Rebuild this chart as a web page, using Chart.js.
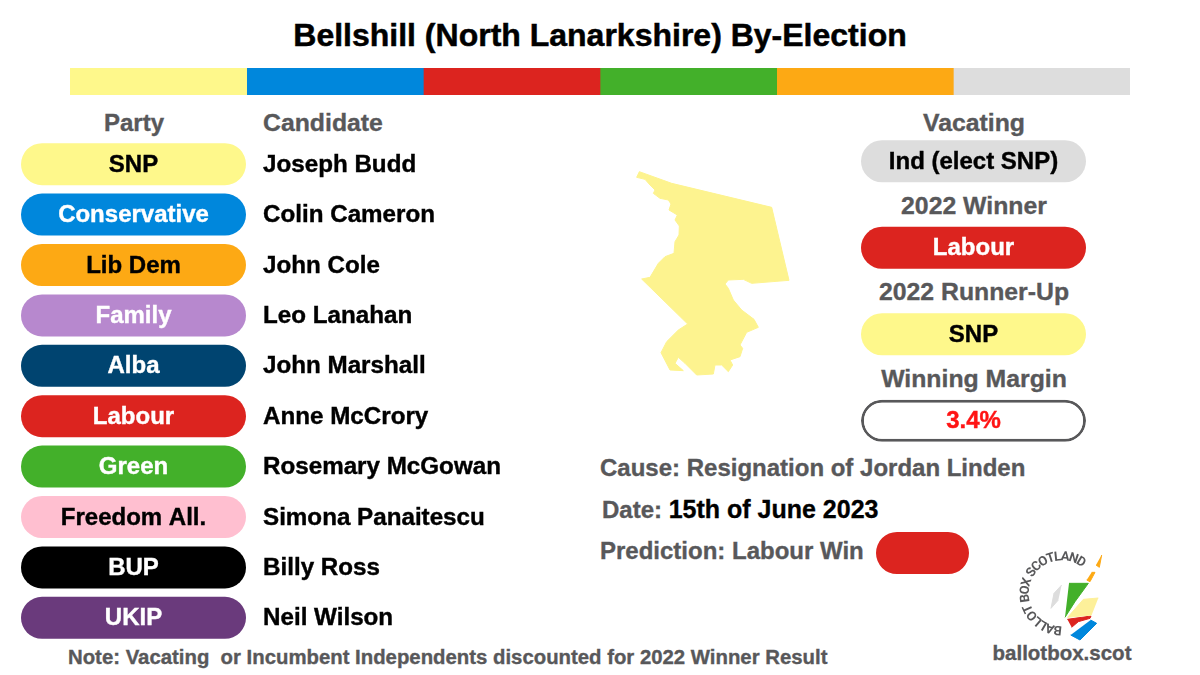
<!DOCTYPE html>
<html><head><meta charset="utf-8">
<style>
html,body{margin:0;padding:0;background:#fff;width:1200px;height:675px;overflow:hidden}
canvas{position:absolute;display:block}
.t{position:absolute;font-family:"Liberation Sans",sans-serif;font-weight:700;white-space:pre;color:#58585a;transform:translateY(-50%);line-height:1;-webkit-text-stroke:0.35px currentColor}
.c{transform:translate(-50%,-50%)}
.k{color:#000}
</style>
<script src="https://cdn.jsdelivr.net/npm/chart.js@4/dist/chart.umd.min.js"></script>
</head><body>
<div class="t c k" style="left:600px;top:35px;font-size:32px;-webkit-text-stroke:0.5px #000">Bellshill (North Lanarkshire) By-Election</div>
<div class="t c" style="left:134px;top:123px;font-size:24px">Party</div>
<div class="t" style="left:263px;top:123px;font-size:24.8px">Candidate</div>
<div class="t c" style="left:974px;top:123px;font-size:24.8px">Vacating</div>
<div class="t c" style="left:974px;top:206px;font-size:24.8px">2022 Winner</div>
<div class="t c" style="left:974px;top:292px;font-size:24.8px">2022 Runner-Up</div>
<div class="t c" style="left:974px;top:379px;font-size:24.8px">Winning Margin</div>
<div class="t" style="left:600px;top:468px;font-size:24px">Cause: Resignation of Jordan Linden</div>
<div class="t" style="left:602px;top:509px;font-size:24px">Date: <span class="k" style="font-size:25px">15th of June 2023</span></div>
<div class="t" style="left:600px;top:551px;font-size:24px">Prediction: Labour Win</div>
<div class="t" style="left:68px;top:657px;font-size:20.35px">Note: Vacating  or Incumbent Independents discounted for 2022 Winner Result</div>
<div class="t c" style="left:1062px;top:653px;font-size:20.5px">ballotbox.scot</div>

<canvas id="strip" width="1060" height="27" style="left:70px;top:68px"></canvas>
<canvas id="parties" width="520" height="504" style="left:11px;top:139px"></canvas>
<canvas id="held" width="245" height="346" style="left:851px;top:118px"></canvas>
<canvas id="prediction" width="113" height="62" style="left:866px;top:522px"></canvas>
<canvas id="map" width="300" height="300" style="left:600px;top:100px"></canvas>
<canvas id="logo" width="170" height="120" style="left:980px;top:530px"></canvas>

<script>
// ---- data ----
const stripColours = ['#FEF88B','#0087DC','#DC241F','#43B02A','#FDA914','#DDDDDD'];
const stripShares = [1,1,1,1,1,1];

const parties = ['SNP','Conservative','Lib Dem','Family','Alba','Labour','Green','Freedom All.','BUP','UKIP'];
const candidates = ['Joseph Budd','Colin Cameron','John Cole','Leo Lanahan','John Marshall','Anne McCrory','Rosemary McGowan','Simona Panaitescu','Billy Ross','Neil Wilson'];
const partySlots = [1,1,1,1,1,1,1,1,1,1];
const partyColours = ['#FEF88B','#0087DC','#FDA914','#B788CE','#004470','#DC241F','#43B02A','#FFBFD0','#000000','#6A3A7C'];
const partyText = ['#000','#fff','#000','#fff','#fff','#fff','#fff','#000','#fff','#fff'];

const heldLabels = ['Ind (elect SNP)','Labour','SNP','3.4%'];
const heldSlots = [1,1,1,1];
const heldColours = ['#DDDDDD','#DC241F','#FEF88B','#FFFFFF'];
const heldBorders = ['#DDDDDD','#DC241F','#FEF88B','#58585A'];
const heldBorderWidths = [0,0,0,3];
const heldText = ['#000','#fff','#000','#FF1414'];

const predictionLabel = ['Labour'];
const predictionSlot = [1];
const predictionColour = ['#DC241F'];

const mapX = [118,215,515,567,455,430,385,375,385,400,425,462,475,440,420,428,420,390,398,385,365,345,340,290,255,235,225,250,210,183,200,235,263,125,150,175,195,222,225,237,238,225,232,207,213,205,180,160,165,150,135,110];
const mapY = [215,250,322,541,550,538,540,552,565,600,630,658,682,697,735,745,770,780,795,815,795,795,822,825,790,772,790,812,810,758,725,690,672,537,532,490,470,460,425,405,378,360,345,330,312,300,295,280,270,255,238,232];

const logoOrangeAX = [365,358,348]; const logoOrangeAY = [75,112,105];
const logoOrangeBX = [335,345,330,320]; const logoOrangeBY = [127,127,155,150];
const logoGreyX = [245,222,213,235]; const logoGreyY = [165,190,235,210];
const logoGreenX = [267,325,285,255]; const logoGreenY = [160,160,215,262];
const logoPaleX = [355,310,263,335]; const logoPaleY = [204,208,262,255];
const logoRedX = [262,333,330,295,275]; const logoRedY = [268,258,265,275,292];
const logoBlueX = [332,350,300,272]; const logoBlueY = [270,280,330,315];
const logoArcText = 'BALLOT BOX SCOTLAND';

// ---- helpers ----
const FONT = '"Liberation Sans", sans-serif';
Chart.defaults.font.family = FONT;
Chart.defaults.animation = false;
Chart.defaults.responsive = false;
Chart.defaults.devicePixelRatio = 1;
Chart.defaults.plugins.legend.display = false;
Chart.defaults.plugins.tooltip.enabled = false;

const pillText = (labels, colours, font) => ({
  id:'pillText',
  afterDatasetsDraw(chart){
    const ctx = chart.ctx;
    ctx.save();
    ctx.textAlign='center'; ctx.textBaseline='middle';
    ctx.font = font;
    ctx.lineWidth = 0.4;
    chart.getDatasetMeta(0).data.forEach((el,i)=>{
      ctx.fillStyle = colours[i];
      ctx.strokeStyle = colours[i];
      ctx.fillText(labels[i], (el.base+el.x)/2, el.y+1);
      ctx.strokeText(labels[i], (el.base+el.x)/2, el.y+1);
    });
    ctx.restore();
  }
});
const tickNudge = {
  id:'tickNudge',
  beforeDraw(chart){ chart.ctx.save(); chart.ctx.translate(0,1); },
  beforeDatasetsDraw(chart){ chart.ctx.restore(); }
};
const hiddenAxis = {display:false};

// top colour strip
new Chart('strip',{
  type:'bar',
  data:{labels:['Parties'],datasets:stripColours.map((c,i)=>({data:[stripShares[i]],backgroundColor:c,stack:'s',barPercentage:1,categoryPercentage:1}))},
  options:{indexAxis:'y',layout:{padding:0},scales:{x:{display:false,stacked:true,min:0,max:6},y:{display:false,stacked:true}}}
});

// party pills with candidate names as axis ticks
new Chart('parties',{
  type:'bar',
  data:{labels:candidates,datasets:[{data:partySlots,backgroundColor:partyColours,borderRadius:21,borderSkipped:false,barPercentage:0.834,categoryPercentage:1}]},
  options:{indexAxis:'y',layout:{padding:{left:10,top:0,bottom:0,right:0}},
    scales:{x:{display:false,min:0,max:1},
      y:{position:'right',grid:{display:false,drawTicks:false},border:{display:false},
         afterFit(s){s.width=285;s.paddingTop=0;s.paddingBottom=0;},
         ticks:{color:'#000',padding:17,textStrokeColor:'#000',textStrokeWidth:0.4,font:{size:24.2,weight:'700'}}}}},
  plugins:[tickNudge,pillText(parties,partyText,`700 24px ${FONT}`)]
});

// vacating / winner / runner-up / margin pills
new Chart('held',{
  type:'bar',
  data:{labels:heldLabels,datasets:[{data:heldSlots,backgroundColor:heldColours,borderColor:heldBorders,borderWidth:heldBorderWidths,borderRadius:21,borderSkipped:false,barPercentage:0.486,categoryPercentage:1}]},
  options:{indexAxis:'y',layout:{padding:{left:10,right:10}},scales:{x:{display:false,min:0,max:1},y:hiddenAxis}},
  plugins:[pillText(heldLabels,heldText,`700 24px ${FONT}`)]
});

// prediction pill
new Chart('prediction',{
  type:'bar',
  data:{labels:predictionLabel,datasets:[{data:predictionSlot,backgroundColor:predictionColour,borderRadius:21,borderSkipped:false,barPercentage:0.68,categoryPercentage:1}]},
  options:{indexAxis:'y',layout:{padding:{left:10,right:10}},scales:{x:{display:false,min:0,max:1},y:hiddenAxis}}
});

// constituency outline
const zip = (xs,ys)=>xs.map((x,i)=>({x,y:ys[i]}));
const shape = (xs,ys,c)=>({data:zip(xs,ys),showLine:true,fill:'shape',backgroundColor:c,borderColor:c,borderWidth:1,pointRadius:0,tension:0});
new Chart('map',{
  type:'scatter',
  data:{datasets:[shape([...mapX,mapX[0]],[...mapY,mapY[0]],'#FDF38F')]},
  options:{layout:{padding:0},scales:{x:{display:false,min:0,max:900},y:{display:false,min:0,max:900,reverse:true}}}
});

// logo
new Chart('logo',{
  type:'scatter',
  data:{datasets:[
    shape(logoOrangeAX,logoOrangeAY,'#FDA914'),
    shape(logoOrangeBX,logoOrangeBY,'#FDA914'),
    shape(logoGreyX,logoGreyY,'#DDDDDD'),
    shape(logoGreenX,logoGreenY,'#43B02A'),
    shape(logoPaleX,logoPaleY,'#FDF09A'),
    shape(logoRedX,logoRedY,'#DC241F'),
    shape(logoBlueX,logoBlueY,'#0087DC')
  ]},
  options:{layout:{padding:0},scales:{x:{display:false,min:0,max:510},y:{display:false,min:0,max:360,reverse:true}}},
  plugins:[{id:'arcText',afterDatasetsDraw(chart){
    const ctx=chart.ctx, sx=chart.scales.x, sy=chart.scales.y;
    const cx=sx.getPixelForValue(245), cy=sy.getPixelForValue(190);
    const r=33;
    ctx.save();
    ctx.font=`700 13px Roboto, sans-serif`;
    ctx.fillStyle='#58585a';
    ctx.textAlign='center';ctx.textBaseline='alphabetic';
    const chars=[...logoArcText];
    const widths=chars.map(c=>ctx.measureText(c).width);
    const total=widths.reduce((a,b)=>a+b,0);
    const sweep=218*Math.PI/180;
    let run=0;
    chars.forEach((ch,i)=>{
      const a=Math.PI/2+sweep*(run+widths[i]/2)/total;
      run+=widths[i];
      ctx.save();
      ctx.translate(cx+r*Math.cos(a),cy+r*Math.sin(a));
      ctx.rotate(a+Math.PI/2);
      ctx.fillText(ch,0,0);
      ctx.restore();
    });
    ctx.restore();
  }}]
});
</script>
</body></html>
